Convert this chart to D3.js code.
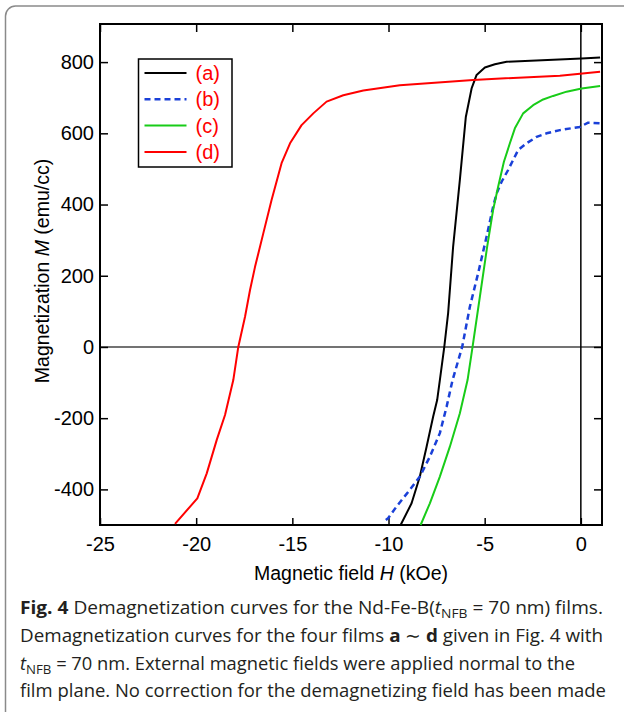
<!DOCTYPE html>
<html>
<head>
<meta charset="utf-8">
<script src="https://cdn.jsdelivr.net/npm/d3@7"></script>
<style>
  body { margin: 0; background: #fff; }
  svg { display: block; }
</style>
</head>
<body>
<div id="chart"></div>
<script>
// field H (kOe) values, magnetization M (emu/cc) values
const curveA = [[-9.37, -500], [-8.80, -439], [-8.37, -364], [-8.02, -280], [-7.68, -196], [-7.47, -149],
    [-7.33, -93], [-7.10, 0], [-6.90, 95], [-6.64, 282], [-6.29, 469], [-5.98, 646], [-5.68, 726],
    [-5.42, 764], [-4.99, 785], [-4.47, 794], [-3.86, 801], [0.04, 810], [1.0, 813]];
const curveB = [[-10.14, -486], [-10.02, -481], [-9.58, -448], [-8.89, -401], [-8.37, -364], [-7.85, -308],
    [-7.33, -242], [-6.98, -168], [-6.67, -93], [-6.17, 0], [-5.77, 113], [-5.34, 207], [-4.90, 310],
    [-4.56, 394], [-4.38, 431], [-4.12, 464], [-3.78, 497], [-3.52, 525], [-3.26, 553], [-2.82, 572],
    [-2.30, 590], [-1.78, 600], [-1.09, 609], [-0.05, 618], [0.38, 630], [1.0, 628]];
const curveC = [[-8.33, -500], [-7.85, -439], [-7.33, -364], [-6.81, -280], [-6.29, -186], [-5.89, -93],
    [-5.63, 0], [-5.25, 141], [-4.87, 282], [-4.56, 385], [-4.30, 450], [-4.00, 520], [-3.69, 572],
    [-3.43, 614], [-3.00, 656], [-2.48, 679], [-1.96, 695], [-1.44, 705], [-0.74, 717], [0.04, 726], [1.0, 733]];
const curveD = [[-21.10, -497], [-19.94, -425], [-19.45, -355], [-18.93, -261], [-18.50, -191], [-18.07, -93],
    [-17.81, 0], [-17.46, 85], [-17.20, 160], [-16.94, 225], [-16.51, 319], [-16.08, 413], [-15.56, 516],
    [-15.12, 572], [-14.52, 623], [-13.91, 656], [-13.22, 689], [-12.35, 707], [-11.31, 720], [-9.41, 735],
    [-5.60, 750], [-1.09, 762], [1.0, 773]];

const seriesNames = ['(a)', '(b)', '(c)', '(d)'];
const xTicks = [-25, -20, -15, -10, -5, 0];
const yTicks = [-400, -200, 0, 200, 400, 600, 800];

const captionLines = [
    [{ t: 'Fig. 4', b: true }, { t: ' Demagnetization curves for the Nd-Fe-B(' }, { t: 't', i: true },
        { t: 'NFB', sub: true }, { t: ' = 70 nm) films.' }],
    [{ t: 'Demagnetization curves for the four films ' }, { t: 'a', b: true }, { t: ' ∼ ' }, { t: 'd', b: true },
        { t: ' given in Fig. 4 with' }],
    [{ t: 't', i: true }, { t: 'NFB', sub: true }, { t: ' = 70 nm. External magnetic fields were applied normal to the' }],
    [{ t: 'film plane. No correction for the demagnetizing field has been made' }]
];
const captionWidths = [583, 583, 555, 586];

const W = 624, H = 712;
const margin = { top: 24, right: 22, bottom: 187, left: 100 };
const width = W - margin.left - margin.right;
const height = H - margin.top - margin.bottom;

const svg = d3.select('#chart').append('svg')
    .attr('width', W)
    .attr('height', H);

// outer rounded border of the figure panel
svg.append('rect')
    .attr('x', 5.5).attr('y', 6)
    .attr('width', 640).attr('height', 730)
    .attr('rx', 10)
    .attr('fill', 'none')
    .attr('stroke', '#8a8a8a')
    .attr('stroke-width', 1.5);

const g = svg.append('g')
    .attr('transform', `translate(${margin.left},${margin.top})`);

const x = d3.scaleLinear().domain([-25, 1.1]).range([0, width]);
const y = d3.scaleLinear().domain([-500, 907]).range([height, 0]);

const font = '"Liberation Sans", Arial, Helvetica, sans-serif';
const fmt = d => String(d); // plain hyphen for negatives, like the original

// zero lines
g.append('line')
    .attr('x1', 0).attr('x2', width)
    .attr('y1', y(0)).attr('y2', y(0))
    .attr('stroke', '#444').attr('stroke-width', 1.5);
g.append('line')
    .attr('x1', x(0)).attr('x2', x(0))
    .attr('y1', 0).attr('y2', height)
    .attr('stroke', '#000').attr('stroke-width', 1.5);

// axes (ticks point inward)
function styleAxis(sel) {
    sel.select('.domain').remove();
    sel.selectAll('.tick line').attr('stroke', '#000').attr('stroke-width', 1.5);
    sel.selectAll('.tick text')
        .attr('fill', '#000')
        .style('font-family', font)
        .style('font-size', '20px');
}

g.append('g')
    .attr('transform', `translate(0,${height})`)
    .call(d3.axisBottom(x).tickValues(xTicks).tickSize(-7).tickPadding(12).tickFormat(fmt))
    .call(styleAxis);

g.append('g')
    .call(d3.axisTop(x).tickValues(xTicks).tickSize(-8).tickFormat(''))
    .call(styleAxis);

g.append('g')
    .call(d3.axisLeft(y).tickValues(yTicks).tickSize(-8).tickPadding(6).tickFormat(fmt))
    .call(styleAxis);

g.append('g')
    .attr('transform', `translate(${width},0)`)
    .call(d3.axisRight(y).tickValues(yTicks).tickSize(-8).tickFormat(''))
    .call(styleAxis);

// frame
g.append('rect')
    .attr('width', width).attr('height', height)
    .attr('fill', 'none')
    .attr('stroke', '#000')
    .attr('stroke-width', 2);

// curves
const series = [
    { data: curveA, color: '#000000', dash: null },
    { data: curveB, color: '#1a40d8', dash: '6,4' },
    { data: curveC, color: '#18cc18', dash: null },
    { data: curveD, color: '#ff0000', dash: null }
];

const line = d3.line()
    .x(d => x(d[0]))
    .y(d => y(d[1]));

series.forEach(s => {
    g.append('path')
        .datum(s.data)
        .attr('fill', 'none')
        .attr('stroke', s.color)
        .attr('stroke-width', s.dash ? 2.5 : 2)
        .attr('stroke-dasharray', s.dash)
        .attr('stroke-linejoin', 'round')
        .attr('d', line);
});

// legend
const legend = svg.append('g').attr('transform', 'translate(138.5,59)');
legend.append('rect')
    .attr('width', 93.5).attr('height', 108)
    .attr('fill', '#fff')
    .attr('stroke', '#000')
    .attr('stroke-width', 1.5);

series.forEach((s, i) => {
    const row = legend.append('g').attr('transform', `translate(0,${14 + i * 26.3})`);
    row.append('line')
        .attr('x1', 6).attr('x2', 48)
        .attr('stroke', s.color)
        .attr('stroke-width', s.dash ? 2.5 : 2)
        .attr('stroke-dasharray', s.dash);
    row.append('text')
        .attr('x', 57).attr('y', 7)
        .attr('fill', '#ff0000')
        .style('font-family', font)
        .style('font-size', '20px')
        .text(seriesNames[i]);
});

// axis titles
const xTitle = svg.append('text')
    .attr('x', 351).attr('y', 580)
    .attr('text-anchor', 'middle')
    .style('font-family', font)
    .style('font-size', '19.5px');
xTitle.append('tspan').text('Magnetic field ');
xTitle.append('tspan').style('font-style', 'italic').text('H');
xTitle.append('tspan').text(' (kOe)');

const yTitle = svg.append('text')
    .attr('transform', 'translate(49,271) rotate(-90)')
    .attr('text-anchor', 'middle')
    .style('font-family', font)
    .style('font-size', '19.5px');
yTitle.append('tspan').text('Magnetization ');
yTitle.append('tspan').style('font-style', 'italic').text('M');
yTitle.append('tspan').text(' (emu/cc)');

// caption
const capFont = '"Open Sans", "Noto Sans", sans-serif';
captionLines.forEach((parts, i) => {
    const t = svg.append('text')
        .attr('x', 20).attr('y', 614 + i * 27.8)
        .attr('textLength', captionWidths[i])
        .attr('lengthAdjust', 'spacingAndGlyphs')
        .attr('fill', '#231f20')
        .style('font-family', capFont)
        .style('font-size', '18px');
    let shifted = false;
    parts.forEach(p => {
        const ts = t.append('tspan').text(p.t);
        if (p.b) ts.style('font-weight', 'bold');
        if (p.i) ts.style('font-style', 'italic');
        if (p.sub) {
            ts.attr('dy', 4).style('font-size', '13px');
            shifted = true;
        } else if (shifted) {
            ts.attr('dy', -4);
            shifted = false;
        }
    });
});
</script>
</body>
</html>
